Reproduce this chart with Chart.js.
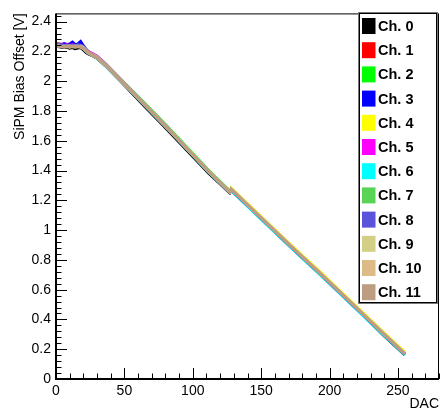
<!DOCTYPE html>
<html>
<head>
<meta charset="utf-8">
<script src="https://cdn.jsdelivr.net/npm/chart.js@4.4.1/dist/chart.umd.min.js"></script>
<style>
  html, body { margin: 0; padding: 0; background: #fff; }
  canvas { display: block; }
</style>
</head>
<body>
<canvas id="chart" width="440" height="414"></canvas>
<script>
// ====== Data ======
const dac = [0, 2, 4, 6, 8, 10, 12, 14, 16, 18, 20, 22, 24, 27, 30, 36, 48, 64, 80, 96, 112, 127, 128, 144, 160, 176, 192, 208, 224, 240, 255];

const ch0 = [2.235, 2.232, 2.228, 2.226, 2.228, 2.222, 2.226, 2.218, 2.222, 2.226, 2.210, 2.192, 2.182, 2.170, 2.155, 2.105, 1.993, 1.838, 1.688, 1.533, 1.378, 1.250, 1.268, 1.128, 0.988, 0.848, 0.713, 0.573, 0.433, 0.290, 0.162];
const ch1 = [2.252, 2.250, 2.248, 2.244, 2.248, 2.240, 2.244, 2.240, 2.244, 2.240, 2.226, 2.208, 2.188, 2.172, 2.158, 2.108, 1.998, 1.848, 1.698, 1.543, 1.388, 1.258, 1.275, 1.135, 0.995, 0.855, 0.720, 0.580, 0.440, 0.300, 0.170];
const ch2 = [2.244, 2.240, 2.244, 2.240, 2.236, 2.240, 2.236, 2.240, 2.244, 2.248, 2.234, 2.212, 2.196, 2.182, 2.166, 2.116, 2.006, 1.858, 1.708, 1.553, 1.396, 1.263, 1.278, 1.138, 0.998, 0.858, 0.723, 0.583, 0.443, 0.303, 0.173];
const ch3 = [2.248, 2.248, 2.245, 2.252, 2.245, 2.250, 2.262, 2.245, 2.250, 2.266, 2.238, 2.212, 2.192, 2.178, 2.160, 2.110, 2.000, 1.850, 1.700, 1.545, 1.390, 1.258, 1.275, 1.135, 0.995, 0.855, 0.720, 0.580, 0.440, 0.300, 0.170];
const ch4 = [2.240, 2.236, 2.240, 2.236, 2.240, 2.232, 2.236, 2.232, 2.240, 2.236, 2.226, 2.205, 2.190, 2.175, 2.160, 2.110, 2.000, 1.850, 1.700, 1.548, 1.393, 1.260, 1.282, 1.142, 1.002, 0.864, 0.729, 0.589, 0.449, 0.309, 0.180];
const ch5 = [2.244, 2.240, 2.244, 2.240, 2.244, 2.240, 2.244, 2.240, 2.236, 2.240, 2.230, 2.210, 2.196, 2.184, 2.168, 2.118, 2.006, 1.853, 1.703, 1.545, 1.390, 1.256, 1.272, 1.132, 0.992, 0.852, 0.717, 0.577, 0.437, 0.297, 0.167];
const ch6 = [2.236, 2.240, 2.236, 2.232, 2.236, 2.232, 2.236, 2.232, 2.236, 2.232, 2.220, 2.200, 2.186, 2.172, 2.156, 2.106, 1.996, 1.846, 1.696, 1.541, 1.386, 1.254, 1.266, 1.126, 0.986, 0.846, 0.711, 0.571, 0.431, 0.291, 0.163];
const ch7 = [2.240, 2.244, 2.240, 2.236, 2.240, 2.236, 2.240, 2.236, 2.240, 2.240, 2.230, 2.206, 2.190, 2.178, 2.164, 2.114, 2.004, 1.854, 1.704, 1.549, 1.394, 1.260, 1.275, 1.135, 0.995, 0.855, 0.720, 0.580, 0.440, 0.300, 0.170];
const ch8 = [2.244, 2.240, 2.244, 2.240, 2.240, 2.236, 2.240, 2.240, 2.244, 2.240, 2.230, 2.205, 2.190, 2.175, 2.160, 2.110, 2.000, 1.850, 1.700, 1.545, 1.390, 1.256, 1.272, 1.132, 0.992, 0.852, 0.717, 0.577, 0.437, 0.297, 0.167];
const ch9 = [2.236, 2.236, 2.232, 2.236, 2.232, 2.236, 2.232, 2.236, 2.232, 2.236, 2.226, 2.205, 2.190, 2.175, 2.160, 2.110, 2.000, 1.850, 1.700, 1.545, 1.390, 1.257, 1.278, 1.138, 0.998, 0.858, 0.723, 0.583, 0.443, 0.303, 0.173];
const ch10 = [2.232, 2.236, 2.232, 2.228, 2.232, 2.228, 2.232, 2.228, 2.232, 2.228, 2.218, 2.200, 2.186, 2.175, 2.160, 2.110, 2.000, 1.850, 1.700, 1.545, 1.390, 1.256, 1.276, 1.136, 0.996, 0.856, 0.721, 0.581, 0.441, 0.301, 0.171];
const ch11 = [2.236, 2.232, 2.236, 2.232, 2.236, 2.232, 2.236, 2.232, 2.236, 2.232, 2.222, 2.202, 2.190, 2.175, 2.160, 2.110, 2.000, 1.850, 1.700, 1.545, 1.390, 1.256, 1.275, 1.135, 0.995, 0.855, 0.720, 0.580, 0.440, 0.300, 0.170];

const channelLabels = ["Ch. 0", "Ch. 1", "Ch. 2", "Ch. 3", "Ch. 4", "Ch. 5", "Ch. 6", "Ch. 7", "Ch. 8", "Ch. 9", "Ch. 10", "Ch. 11"];
const channelValues = [ch0, ch1, ch2, ch3, ch4, ch5, ch6, ch7, ch8, ch9, ch10, ch11];
const channelColors = ["#000000", "#ff0000", "#00ff00", "#0000ff", "#ffff00", "#ff00ff", "#00ffff",
  "#59d454", "#5954d9", "#d4cf87", "#deba87", "#bd9e82"];

const FONT = "'Liberation Sans', Arial, Helvetica, sans-serif";

// ====== ROOT-style frame, inner ticks and legend ======
const rootStyle = {
  id: "rootStyle",
  afterDatasetsDraw(chart) {
    const { ctx, chartArea: a, scales: { x, y } } = chart;
    ctx.save();
    ctx.strokeStyle = "#000";
    ctx.lineWidth = 1;
    ctx.strokeRect(a.left + 0.5, a.top + 0.5, a.right - a.left - 1, a.bottom - a.top);

    // axes a bit heavier
    ctx.lineWidth = 2;
    ctx.beginPath();
    ctx.moveTo(a.left, a.top);
    ctx.lineTo(a.left, a.bottom);
    ctx.lineTo(a.right, a.bottom);
    ctx.stroke();

    // x ticks: major every 50, minor every 10
    ctx.lineWidth = 1;
    ctx.beginPath();
    for (let v = 0; v <= x.max; v += 10) {
      const px = Math.round(x.getPixelForValue(v)) + 0.5;
      const len = v % 50 === 0 ? 11 : 5.5;
      ctx.moveTo(px, a.bottom);
      ctx.lineTo(px, a.bottom - len);
    }
    // y ticks: major every 0.2, minor every 0.04
    for (let i = 0; i * 0.04 <= y.max; i++) {
      const py = Math.round(y.getPixelForValue(i * 0.04)) + 0.5;
      const len = i % 5 === 0 ? 11 : 5.5;
      ctx.moveTo(a.left, py);
      ctx.lineTo(a.left + len, py);
    }
    ctx.stroke();
    ctx.restore();
  },
  afterDraw(chart) {
    const { ctx } = chart;
    const box = { left: 359, top: 13, right: 437, bottom: 303 };
    ctx.save();
    ctx.fillStyle = "#fff";
    ctx.fillRect(box.left, box.top, box.right - box.left, box.bottom - box.top);
    ctx.strokeStyle = "#000";
    ctx.lineWidth = 1;
    ctx.strokeRect(box.left + 0.5, box.top + 0.5, box.right - box.left - 1, box.bottom - box.top - 1);
    ctx.strokeStyle = "#777";
    ctx.strokeRect(box.left - 0.5, box.top - 0.5, box.right - box.left + 1, box.bottom - box.top + 1);

    ctx.font = "bold 14.5px " + FONT;
    ctx.textBaseline = "middle";
    ctx.textAlign = "left";
    chart.data.datasets.forEach((ds, i) => {
      const cy = 26 + i * 24.2;
      ctx.fillStyle = ds.borderColor;
      ctx.fillRect(362, cy - 8, 13.5, 16);
      ctx.fillStyle = "#000";
      ctx.fillText(ds.label, 378, cy + 1);
    });
    ctx.restore();
  },
};

const datasets = channelValues.map((vals, i) => ({
  label: channelLabels[i],
  data: vals.map((v, j) => ({ x: dac[j], y: v })),
  borderColor: channelColors[i],
  backgroundColor: channelColors[i],
  borderWidth: 3,
  pointRadius: 0,
  tension: 0,
  fill: false,
  order: channelValues.length - 1 - i,
}));

const ctx = document.getElementById("chart").getContext("2d");
const chart = new Chart(ctx, {
  type: "line",
  data: { datasets },
  options: {
    responsive: false,
    animation: false,
    devicePixelRatio: 1,
    layout: { padding: { top: 11, right: 1, left: 0, bottom: 0 } },
    plugins: { legend: { display: false }, tooltip: { enabled: false } },
    scales: {
      x: {
        type: "linear",
        min: 0,
        max: 280,
        afterFit: (s) => { s.height = 35; },
        grid: { display: false, drawTicks: false },
        border: { display: false },
        ticks: {
          stepSize: 50,
          includeBounds: false,
          maxRotation: 0,
          padding: 4,
          color: "#000",
          font: { family: FONT, size: 14 },
        },
        title: {
          display: true,
          text: "DAC",
          align: "end",
          color: "#000",
          font: { family: FONT, size: 14 },
          padding: { top: 0, bottom: 1 },
        },
      },
      y: {
        type: "linear",
        min: 0,
        max: 2.455,
        afterFit: (s) => { s.width = 56; },
        grid: { display: false, drawTicks: false },
        border: { display: false },
        ticks: {
          stepSize: 0.2,
          includeBounds: false,
          padding: 5,
          color: "#000",
          font: { family: FONT, size: 14 },
          callback: (v) => String(Number(v.toFixed(1))),
        },
        title: {
          display: true,
          text: "SiPM Bias Offset [V]",
          align: "end",
          color: "#000",
          font: { family: FONT, size: 14 },
          padding: { top: 12, bottom: 0 },
        },
      },
    },
  },
  plugins: [rootStyle],
});
</script>
</body>
</html>
